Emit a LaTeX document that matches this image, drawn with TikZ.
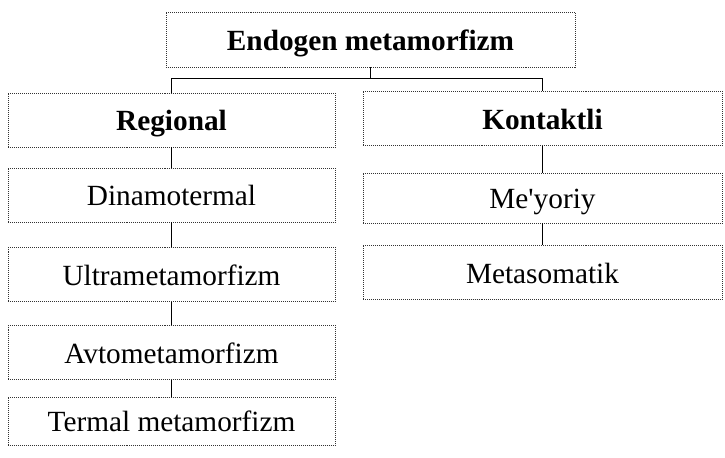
\documentclass[tikz,border=0pt]{standalone}
\usepackage{fontspec}
\setmainfont{Liberation Serif}
\begin{document}
\begin{tikzpicture}[
  x=0.03cm, y=-0.03cm,
  font=\fontsize{25}{29}\selectfont,
  box/.style={draw=black!80, densely dotted, line width=0.7pt, minimum height=1.62cm, align=center, inner sep=0pt, text height=22pt, text depth=4pt},
  leftbox/.style={box, minimum width=9.81cm},
  rightbox/.style={box, minimum width=10.77cm},
  topbox/.style={box, minimum width=12.27cm, minimum height=1.65cm, font=\fontsize{25}{29}\selectfont\bfseries},
  headbox/.style={font=\fontsize{25}{29}\selectfont\bfseries},
  link/.style={line width=0.9pt, black}
]

% Page frame: reference proportions
\useasboundingbox (0,0) rectangle (725,458);

% Column positions
\def\colL{171.5}
\def\colR{542.5}

% Root
\node[topbox] (endo) at (370.5, 39.5) {Endogen metamorfizm};

% Left branch
\node[leftbox, headbox] (reg) at (\colL, 120) {Regional};
\node[leftbox] (dina) at (\colL, 195) {Dinamotermal};
\node[leftbox] (ultra) at (\colL, 274.5) {Ultrametamorfizm};
\node[leftbox] (avto) at (\colL, 352.5) {Avtometamorfizm};
\node[leftbox, minimum height=1.44cm] (term) at (\colL, 421) {Termal metamorfizm};

% Right branch
\node[rightbox, headbox] (kont) at (\colR, 118.5) {Kontaktli};
\node[rightbox, minimum height=1.5cm] (meyo) at (\colR, 198) {Me\textquotesingle yoriy};
\node[rightbox] (meta) at (\colR, 272.5) {Metasomatik};

% Fork under the root
\draw[link] (endo.south) -- ++(0,11) coordinate (fork);
\draw[link] (reg.north) |- (fork) -| (kont.north);

% Chains
\foreach \a/\b in {reg/dina, dina/ultra, ultra/avto, avto/term, kont/meyo, meyo/meta}{
  \draw[link] (\a.south) -- (\b.north);
}

\end{tikzpicture}
\end{document}
